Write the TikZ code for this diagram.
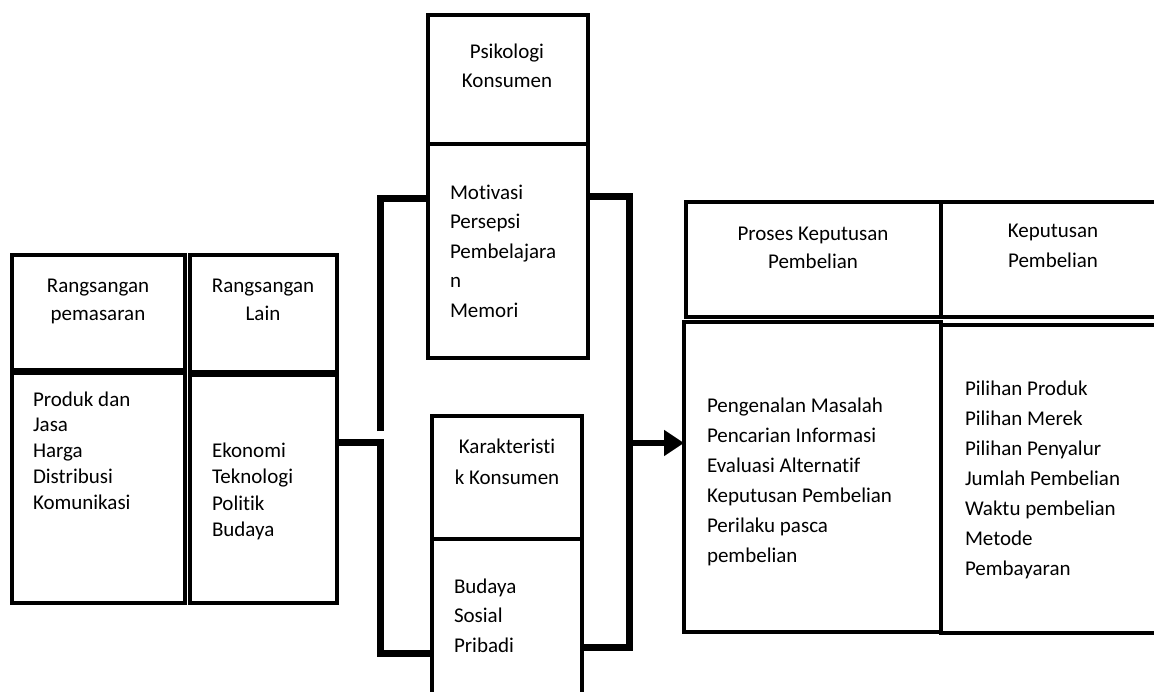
\documentclass[tikz,border=0pt]{standalone}
\usepackage{fontspec}
\setmainfont{Carlito}[Ligatures=NoCommon]
\usetikzlibrary{arrows.meta}
\newcommand\txtstack[2]{\begin{tabular}[t]{@{}#1@{}}#2\end{tabular}}
\begin{document}
\begin{tikzpicture}[x=1pt,y=-1pt,
  framebox/.style={draw=black, line width=4.6pt, inner sep=0pt, outer sep=0pt, anchor=north west},
  txt/.style={inner sep=0pt, outer sep=0pt, font=\fontsize{21pt}{#1pt}\selectfont},
  bracketline/.style={draw=black, line width=7pt, line join=miter},
  arrowline/.style={draw=black, line width=6.5pt, -{Triangle[length=20pt,width=25pt]}}]
\useasboundingbox (0,0) rectangle (1154,691);
\fill[white] (0,0) rectangle (1154,691);
\clip (0,0) rectangle (1154,691);

% left group
\node[framebox, minimum width=173pt, minimum height=115pt] (ahead) at (12,255) {};
\node[framebox, minimum width=173pt, minimum height=230pt] (abody) at (12,373) {};
\node[framebox, minimum width=147pt, minimum height=117pt] (bhead) at (190,255) {};
\node[framebox, minimum width=147pt, minimum height=228pt] (bbody) at (190,375) {};

% middle column
\node[framebox, minimum width=160pt, minimum height=129pt] (phead) at (428,15) {};
\node[framebox, minimum width=160pt, minimum height=214pt] (pbody) at (428,144) {};
\node[framebox, minimum width=150pt, minimum height=123pt] (khead) at (432,416) {};
\node[framebox, minimum width=150pt, minimum height=200pt] (kbody) at (432,539) {};

% right group
\node[framebox, minimum width=255pt, minimum height=115pt] (rhead) at (686,202) {};
\node[framebox, minimum width=257pt, minimum height=310pt] (rbody) at (684,322) {};
\node[framebox, minimum width=229pt, minimum height=115pt] (shead) at (941,202) {};
\node[framebox, minimum width=229pt, minimum height=308pt] (sbody) at (941,325) {};

% texts
\node[txt=28, anchor=base] (tah) at (98,292) {\txtstack{c}{Rangsangan\\pemasaran}};
\node[txt=25.8, anchor=base west] (tab) at (33,406) {\txtstack{l}{Produk dan\\Jasa\\Harga\\Distribusi\\Komunikasi}};
\node[txt=28, anchor=base] (tbh) at (263,292) {\txtstack{c}{Rangsangan\\Lain}};
\node[txt=26.5, anchor=base west] (tbb) at (212,457) {\txtstack{l}{Ekonomi\\Teknologi\\Politik\\Budaya}};

\node[txt=29, anchor=base] (tph) at (507,58) {\txtstack{c}{Psikologi\\Konsumen}};
\node[txt=29.5, anchor=base west] (tpb) at (450,199) {\txtstack{l}{Motivasi\\Persepsi\\Pembelajara\\n\\Memori}};
\node[txt=31, anchor=base] (tkh) at (507,453) {\txtstack{c}{Karakteristi\\k Konsumen}};
\node[txt=29.5, anchor=base west] (tkb) at (454,593) {\txtstack{l}{Budaya\\Sosial\\Pribadi}};

\node[txt=28, anchor=base] (trh) at (813,240) {\txtstack{c}{Proses Keputusan\\Pembelian}};
\node[txt=30, anchor=base west] (trb) at (707,412) {\txtstack{l}{Pengenalan Masalah\\Pencarian Informasi\\Evaluasi Alternatif\\Keputusan Pembelian\\Perilaku pasca\\pembelian}};
\node[txt=30, anchor=base] (tsh) at (1053,237) {\txtstack{c}{Keputusan\\Pembelian}};
\node[txt=30, anchor=base west] (tsb) at (965,395) {\txtstack{l}{Pilihan Produk\\Pilihan Merek\\Pilihan Penyalur\\Jumlah Pembelian\\Waktu pembelian\\Metode\\Pembayaran}};

% connector coordinates
\coordinate (lj) at (380,442);
\coordinate (lu) at (380,431);
\coordinate (ltop) at (380,198);
\coordinate (lbot) at (380,653);
\coordinate (rj) at (629,443);
\coordinate (rtop) at (629,196);
\coordinate (rbot) at (629,647);

% left bracket
\draw[bracketline] (lu) -- (ltop) -- (pbody.west |- ltop);
\draw[bracketline] (bbody.east |- lj) -- (lj) -- (lbot) -- (kbody.west |- lbot);
% right bracket
\draw[bracketline] (pbody.east |- rtop) -- (rtop) -- (rbot) -- (kbody.east |- rbot);
% arrow
\draw[arrowline] (rj) -- (rbody.west |- rj);
\end{tikzpicture}
\end{document}
